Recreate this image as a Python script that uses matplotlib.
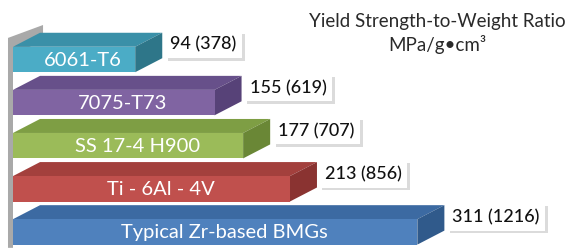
import matplotlib
matplotlib.use('Agg')
import matplotlib.pyplot as plt
from matplotlib.patches import Polygon
import matplotlib.patheffects as pe

alloys = ['6061-T6', '7075-T73', 'SS 17-4 H900', 'Ti - 6Al - 4V', 'Typical Zr-based BMGs']
ratio = [94, 155, 177, 213, 311]
ratio_alt = [378, 619, 707, 856, 1216]

front_col = ['#4bacc6', '#8064a2', '#9bbb59', '#c0504d', '#4f81bd']
top_col = ['#3a90a8', '#67508a', '#7e9e44', '#a3403d', '#3c6aa2']
side_col = ['#2e7689', '#574278', '#6a8736', '#8a3331', '#305a8b']

plt.rcParams['font.family'] = ['Lato', 'DejaVu Sans']

fig = plt.figure(figsize=(5.74, 2.5), dpi=100)
ax = fig.add_axes([0, 0, 1, 1])
ax.set_xlim(-10, 431.5)
ax.set_ylim(4.42, -1.38)
ax.axis('off')

h = 0.59              # bar thickness
dx, dy = 20.8, 0.325  # 3d depth offset

# grey side wall
wall = [(-3.85, 4.37), (-3.85, -0.5), (23.1, -0.8), (23.1, -0.45), (0, -0.1), (0, 4.37)]
ax.add_patch(Polygon(wall, closed=True, fc='#a9a9a9', ec='none', zorder=1))

for i, (name, v, alt) in enumerate(zip(alloys, ratio, ratio_alt)):
    y0, y1 = i - h / 2, i + h / 2
    topf = [(0, y0), (v, y0), (v + dx, y0 - dy), (dx, y0 - dy)]
    side = [(v, y0), (v + dx, y0 - dy), (v + dx, y1 - dy), (v, y1)]
    frontf = [(0, y0), (v, y0), (v, y1), (0, y1)]
    ax.add_patch(Polygon(topf, closed=True, fc=top_col[i], ec='none', zorder=2))
    ax.add_patch(Polygon(side, closed=True, fc=side_col[i], ec='none', zorder=2))
    ax.add_patch(Polygon(frontf, closed=True, fc=front_col[i], ec='none', zorder=3))
    ax.text(v / 2 + 7, i + 0.02, name, color='white', ha='center', va='center',
            fontsize=14.5, zorder=4)
    t = ax.annotate(f'{v} ({alt})', xy=(v + dx, y0), xytext=(8, 2),
                    textcoords='offset pixels', ha='left', va='center',
                    fontsize=13, color='#111111', fontweight='medium', zorder=5,
                    bbox=dict(boxstyle='square,pad=0.3', fc='white', ec='none'))
    t.get_bbox_patch().set_path_effects([
        pe.SimplePatchShadow(offset=(2, -2), shadow_rgbFace='#b0b0b0', alpha=0.45),
        pe.Normal()])

fig.text(0.762, 1 - 22 / 250, 'Yield Strength-to-Weight Ratio', ha='center', va='center',
         fontsize=13.5, color='#2a2a2a')
fig.text(0.762, 1 - 45 / 250, 'MPa/g\u2022cm\u00b3', ha='center', va='center',
         fontsize=13.5, color='#2a2a2a')

fig.savefig('out.png', dpi=100)
